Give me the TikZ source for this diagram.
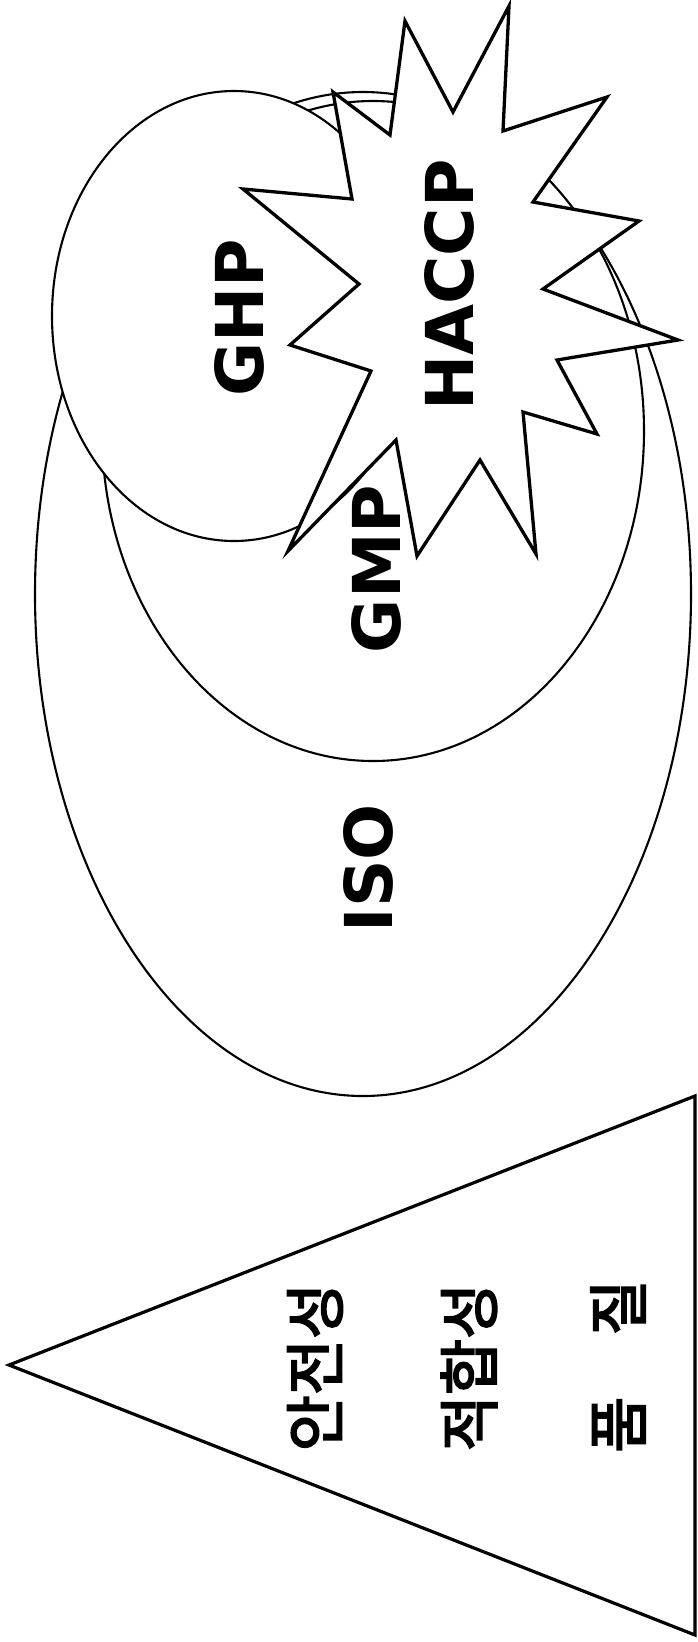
\documentclass[tikz,border=0pt]{standalone}
\usepackage{fontspec}
\setmainfont{DejaVu Sans}
\newfontfamily\krfont[FakeBold=3]{Noto Sans CJK KR}
\begin{document}
\begin{tikzpicture}[x=1pt,y=-1pt,
  ring/.style={draw=black, line width=2.1pt, fill=white},
  burst/.style={draw=black, line width=3.3pt, fill=white, line join=miter, miter limit=20},
  pyramid/.style={draw=black, line width=3.2pt, line join=miter, miter limit=20},
  lbl/.style={inner sep=0pt, rotate=90, font=\fontsize{66}{70}\selectfont\bfseries},
  krlbl/.style={inner sep=0pt, rotate=90, font=\krfont\fontsize{61}{66}\selectfont}]
\useasboundingbox (0,0) rectangle (697,1642);
% ellipses
\draw[ring] (363,594) ellipse [x radius=328, y radius=502];
\draw[ring] (373,431) ellipse [x radius=271, y radius=330];
\draw[ring] (234,316) ellipse [x radius=182, y radius=225];
% star burst
\draw[burst] (333,92) -- (390,135) -- (405,21) -- (453,112) -- (509,6) -- (503,131)
  -- (607,97) -- (533,202) -- (639,221) -- (543,289) -- (678,340) -- (557,360)
  -- (597,434) -- (523,412) -- (536,554) -- (480,460) -- (417,556) -- (396,440)
  -- (288,551) -- (371,371) -- (290,345) -- (359,284) -- (243,189) -- (352,199) -- cycle;
% labels
\node[lbl] (ghp) at (239,318) {GHP};
\node[lbl] (haccp) at (449,285) {HACCP};
\node[lbl] (gmp) at (376,569) {GMP};
\node[lbl] (iso) at (368,868) {ISO};
% triangle
\draw[pyramid] (9,1365) -- (695,1096) -- (695,1635) -- cycle;
\node[krlbl] (safety) at (315,1367) {안전성};
\node[krlbl] (fitness) at (469,1367) {적합성};
\node[krlbl] (quality) at (618,1366) {품\hspace{1em}질};
\end{tikzpicture}
\end{document}
